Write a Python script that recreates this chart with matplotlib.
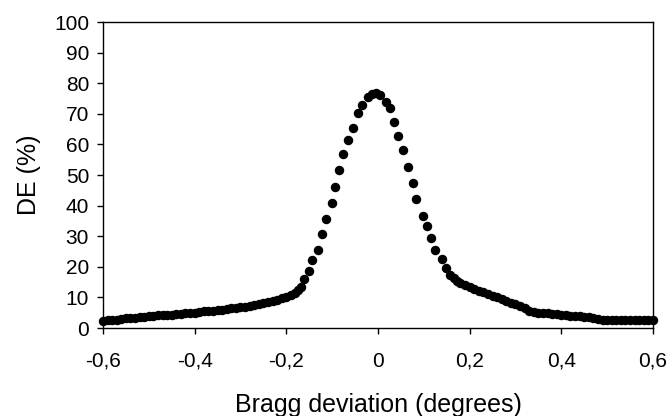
import matplotlib
matplotlib.use("Agg")
import matplotlib.pyplot as plt
from matplotlib.ticker import FuncFormatter

plt.rcParams["font.family"] = ["Liberation Sans", "DejaVu Sans"]

# Bragg deviation (degrees)
x = [-0.60, -0.59, -0.58, -0.57, -0.56, -0.55, -0.54, -0.53, -0.52, -0.51,
     -0.50, -0.49, -0.48, -0.47, -0.46, -0.45, -0.44, -0.43, -0.42, -0.41,
     -0.40, -0.39, -0.38, -0.37, -0.36, -0.35, -0.34, -0.33, -0.32, -0.31,
     -0.30, -0.29, -0.28, -0.27, -0.26, -0.25, -0.24, -0.23, -0.22, -0.21,
     -0.20, -0.19, -0.18, -0.175, -0.169, -0.161, -0.151, -0.145, -0.130, -0.123,
     -0.114, -0.101, -0.094, -0.084, -0.076, -0.066, -0.054, -0.044, -0.035, -0.021,
     -0.013, -0.005, 0.004, 0.017, 0.026, 0.036, 0.044, 0.054, 0.066, 0.076,
     0.084, 0.099, 0.106, 0.116, 0.124, 0.139, 0.148, 0.157, 0.165, 0.172,
     0.18, 0.19, 0.20, 0.21, 0.22, 0.23, 0.24, 0.25, 0.26, 0.27,
     0.28, 0.29, 0.30, 0.31, 0.32, 0.33, 0.34, 0.35, 0.36, 0.37,
     0.38, 0.39, 0.40, 0.41, 0.42, 0.43, 0.44, 0.45, 0.46, 0.47,
     0.48, 0.49, 0.50, 0.51, 0.52, 0.53, 0.54, 0.55, 0.56, 0.57,
     0.58, 0.59, 0.60]

# diffraction efficiency DE (%)
de = [2.4, 2.5, 2.6, 2.7, 3.0, 3.2, 3.3, 3.4, 3.5, 3.6,
      3.8, 4.0, 4.1, 4.2, 4.3, 4.4, 4.6, 4.7, 4.8, 4.9,
      5.0, 5.2, 5.4, 5.5, 5.6, 5.8, 6.0, 6.2, 6.4, 6.6,
      6.8, 7.0, 7.3, 7.5, 7.8, 8.1, 8.4, 8.8, 9.2, 9.7,
      10.2, 10.8, 11.6, 12.5, 13.5, 16.1, 18.7, 22.2, 25.5, 30.7,
      35.5, 40.7, 46.2, 51.5, 56.8, 61.4, 65.4, 70.2, 72.9, 75.6,
      76.5, 76.8, 76.1, 74.0, 72.0, 67.4, 62.7, 58.2, 52.7, 47.5,
      42.0, 36.7, 33.4, 29.5, 25.5, 22.4, 19.5, 17.3, 16.2, 15.3,
      14.7, 14.0, 13.3, 12.8, 12.2, 11.7, 11.2, 10.6, 10.0, 9.4,
      8.8, 8.2, 7.7, 7.2, 6.6, 5.6, 5.2, 5.0, 4.9, 4.8,
      4.7, 4.5, 4.2, 4.1, 4.0, 3.9, 3.8, 3.6, 3.5, 3.3,
      3.0, 2.7, 2.5, 2.5, 2.5, 2.5, 2.5, 2.5, 2.5, 2.5,
      2.6, 2.6, 2.6]

xticks = [-0.6, -0.4, -0.2, 0, 0.2, 0.4, 0.6]
yticks = [0, 10, 20, 30, 40, 50, 60, 70, 80, 90, 100]

fig = plt.figure(figsize=(6.71, 4.16), dpi=100)
ax = fig.add_axes([0.1535, 0.2115, 0.8196, 0.7356])

ax.plot(x, de, "o", color="black", ms=5.8, mec="black", clip_on=False, zorder=3)

ax.set_xlim(-0.6, 0.6)
ax.set_ylim(0, 100)
ax.set_xticks(xticks)
ax.set_yticks(yticks)
# decimal comma, as in the original
ax.xaxis.set_major_formatter(FuncFormatter(lambda v, p: ("%.1f" % v).replace(".", ",").replace("-0,0", "0").replace("0,0", "0")))

ax.tick_params(direction="out", length=4, width=1, labelsize=15, colors="black")
ax.tick_params(axis="x", pad=13)
ax.tick_params(axis="y", pad=6)
for s in ax.spines.values():
    s.set_linewidth(1)
    s.set_color("black")

ax.set_xlabel("Bragg deviation (degrees)", fontsize=18, labelpad=16)
ax.set_ylabel("DE (%)", fontsize=18, labelpad=9)

fig.savefig("out.png", dpi=100)
